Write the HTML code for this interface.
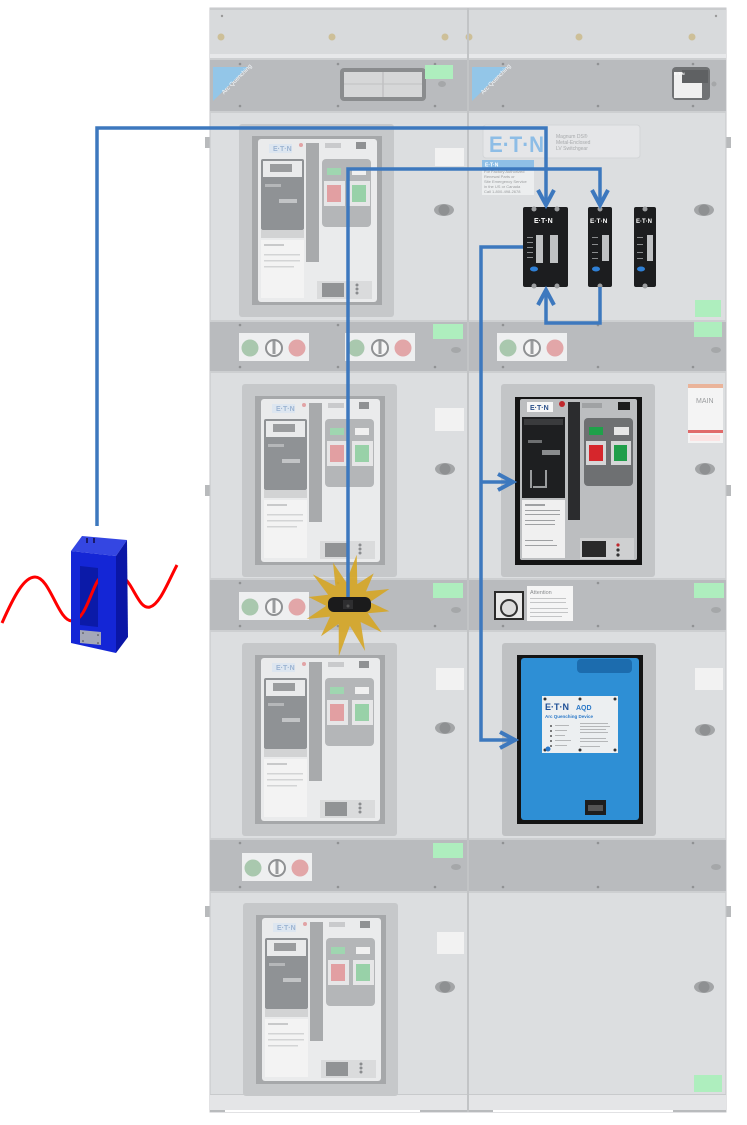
<!DOCTYPE html>
<html><head><meta charset="utf-8"><style>
html,body{margin:0;padding:0;background:#fff;}
svg{display:block}
text{font-family:"Liberation Sans",sans-serif}
</style></head><body>
<svg width="747" height="1125" viewBox="0 0 747 1125" xmlns="http://www.w3.org/2000/svg">
<defs>
<g id="brk">
<rect x="0" y="0" width="155" height="193" rx="3" fill="#c6c8ca"/>
<rect x="13" y="12" width="130" height="169" fill="#a6a8aa"/>
<rect x="19" y="15" width="119" height="163" rx="3" fill="#eaebec"/>
<rect x="30" y="20" width="23" height="9" fill="#dde6f0"/>
<circle cx="62" cy="21" r="2" fill="#e2a3a5"/>
<rect x="22" y="35" width="43" height="71" rx="2" fill="#8f9295"/>
<rect x="24" y="37" width="39" height="16" fill="#e9eaeb"/>
<rect x="31" y="40" width="22" height="8" fill="#9a9c9e"/>
<rect x="26" y="60" width="16" height="3" fill="#b5b7b9"/>
<rect x="40" y="75" width="18" height="4" fill="#c2c4c6"/>
<rect x="22" y="106" width="43" height="8" fill="#d2d3d4"/>
<rect x="22" y="116" width="43" height="58" fill="#f3f3f3"/>
<rect x="25" y="120" width="20" height="2" fill="#c8c9ca"/>
<rect x="25" y="130" width="36" height="1.5" fill="#d3d4d5"/>
<rect x="25" y="136" width="36" height="1.5" fill="#d3d4d5"/>
<rect x="25" y="142" width="30" height="1.5" fill="#d3d4d5"/>
<rect x="67" y="19" width="13" height="119" fill="#a8aaac"/>
<rect x="86" y="19" width="16" height="5" fill="#c9cacc"/>
<rect x="117" y="18" width="10" height="7" fill="#8f9193"/>
<rect x="83" y="35" width="49" height="68" rx="4" fill="#b4b6b8"/>
<rect x="88" y="44" width="14" height="7" fill="#9fd6b0"/>
<rect x="113" y="44" width="14" height="7" fill="#f0f0f0"/>
<rect x="85" y="57" width="21" height="25" fill="#e6e6e7"/>
<rect x="88" y="61" width="14" height="17" fill="#e29fa2"/>
<rect x="110" y="57" width="21" height="25" fill="#e6e6e7"/>
<rect x="113" y="61" width="14" height="17" fill="#98d1a8"/>
<rect x="78" y="157" width="55" height="18" fill="#dadbdc"/>
<rect x="83" y="159" width="22" height="14" fill="#919395"/>
<circle cx="118" cy="161" r="1.5" fill="#8a8c8e"/>
<circle cx="118" cy="165" r="1.5" fill="#8a8c8e"/>
<circle cx="118" cy="169" r="1.5" fill="#8a8c8e"/>
</g>
<g id="plate">
<rect x="0" y="0" width="70" height="28" fill="#eeeff0"/>
<circle cx="11" cy="15" r="8.5" fill="#a9c8ae"/>
<circle cx="35" cy="15" r="8" fill="#f6f6f6" stroke="#8f9193" stroke-width="2"/>
<rect x="33.5" y="8" width="3" height="13" fill="#9a9c9e"/>
<circle cx="58" cy="15" r="8.5" fill="#e2a6a8"/>
</g>
<g id="knob">
<ellipse cx="0" cy="0" rx="10" ry="6" fill="#a3a5a7"/>
<circle cx="0" cy="0" r="5.5" fill="#8e9092"/>
</g>
<clipPath id="win"><polygon points="80,566 98,568 98,627 80,625"/></clipPath>
</defs>

<rect width="747" height="1125" fill="#fff"/>

<!-- hinges -->
<rect x="205" y="137" width="6" height="11" fill="#b8babc"/>
<rect x="205" y="485" width="6" height="11" fill="#b8babc"/>
<rect x="205" y="906" width="6" height="11" fill="#b8babc"/>
<rect x="725" y="137" width="6" height="11" fill="#b8babc"/>
<rect x="725" y="485" width="6" height="11" fill="#b8babc"/>
<rect x="725" y="906" width="6" height="11" fill="#b8babc"/>

<!-- cabinet -->
<rect x="210" y="8" width="516" height="1104" fill="#dcdee0" stroke="#c4c6c8" stroke-width="1"/>
<rect x="210" y="8" width="516" height="50" fill="#d8dadc"/>
<rect x="210" y="8" width="516" height="2" fill="#c9cbcd"/>
<rect x="210" y="54" width="516" height="4" fill="#e7e8ea"/>
<g fill="#cdbf98">
<circle cx="221" cy="37" r="3.5"/><circle cx="332" cy="37" r="3.5"/><circle cx="445" cy="37" r="3.5"/>
<circle cx="469" cy="37" r="3.5"/><circle cx="579" cy="37" r="3.5"/><circle cx="692" cy="37" r="3.5"/>
</g>
<circle cx="222" cy="16" r="1.2" fill="#999"/><circle cx="716" cy="16" r="1.2" fill="#999"/>

<!-- bands -->
<g fill="#b9bbbe">
<rect x="210" y="58" width="516" height="55"/>
<rect x="210" y="320" width="516" height="53"/>
<rect x="210" y="578" width="516" height="54"/>
<rect x="210" y="838" width="516" height="55"/>
</g>
<g fill="#cdcfd1">
<rect x="210" y="58" width="516" height="2"/><rect x="210" y="111" width="516" height="2"/>
<rect x="210" y="320" width="516" height="2"/><rect x="210" y="371" width="516" height="2"/>
<rect x="210" y="578" width="516" height="2"/><rect x="210" y="630" width="516" height="2"/>
<rect x="210" y="838" width="516" height="2"/><rect x="210" y="891" width="516" height="2"/>
</g>
<!-- bottom -->
<rect x="210" y="1094" width="516" height="18" fill="#e4e5e7"/>
<rect x="210" y="1094" width="516" height="1" fill="#c8cacc"/>
<rect x="210" y="1110" width="516" height="2" fill="#b9bbbd"/>
<rect x="225" y="1110" width="195" height="2" fill="#fff"/>
<rect x="493" y="1110" width="180" height="2" fill="#fff"/>

<!-- divider -->
<rect x="467" y="8" width="2" height="1104" fill="#c2c4c6"/>

<!-- band screws -->
<g fill="#909294">
<circle cx="240" cy="64" r="1.3"/><circle cx="338" cy="64" r="1.3"/><circle cx="435" cy="64" r="1.3"/>
<circle cx="240" cy="106" r="1.3"/><circle cx="338" cy="106" r="1.3"/><circle cx="435" cy="106" r="1.3"/>
<circle cx="503" cy="64" r="1.3"/><circle cx="598" cy="64" r="1.3"/><circle cx="693" cy="64" r="1.3"/>
<circle cx="503" cy="106" r="1.3"/><circle cx="598" cy="106" r="1.3"/><circle cx="693" cy="106" r="1.3"/>
<circle cx="240" cy="325" r="1.3"/><circle cx="338" cy="325" r="1.3"/><circle cx="240" cy="367" r="1.3"/><circle cx="338" cy="367" r="1.3"/><circle cx="435" cy="367" r="1.3"/>
<circle cx="503" cy="325" r="1.3"/><circle cx="598" cy="325" r="1.3"/><circle cx="503" cy="367" r="1.3"/><circle cx="598" cy="367" r="1.3"/><circle cx="693" cy="367" r="1.3"/>
<circle cx="240" cy="583" r="1.3"/><circle cx="338" cy="583" r="1.3"/><circle cx="240" cy="626" r="1.3"/><circle cx="338" cy="626" r="1.3"/><circle cx="435" cy="626" r="1.3"/>
<circle cx="503" cy="626" r="1.3"/><circle cx="598" cy="583" r="1.3"/><circle cx="598" cy="626" r="1.3"/><circle cx="693" cy="626" r="1.3"/>
<circle cx="240" cy="843" r="1.3"/><circle cx="338" cy="843" r="1.3"/><circle cx="240" cy="887" r="1.3"/><circle cx="338" cy="887" r="1.3"/><circle cx="435" cy="887" r="1.3"/>
<circle cx="503" cy="843" r="1.3"/><circle cx="598" cy="843" r="1.3"/><circle cx="693" cy="843" r="1.3"/>
<circle cx="503" cy="887" r="1.3"/><circle cx="598" cy="887" r="1.3"/><circle cx="693" cy="887" r="1.3"/>
</g>

<!-- band 1 details -->
<polygon points="213,67 248,67 213,101" fill="#93c6e8"/>
<text x="218" y="92" font-size="6" fill="#f4f8fb" transform="rotate(-45 224 86)">Arc Quenching</text>
<polygon points="472,67 507,67 472,101" fill="#93c6e8"/>
<text x="477" y="92" font-size="6" fill="#f4f8fb" transform="rotate(-45 483 86)">Arc Quenching</text>
<rect x="340" y="68" width="86" height="33" rx="4" fill="#8a8c8e"/>
<rect x="344" y="72" width="78" height="25" fill="#d6d7d8"/>
<line x1="383" y1="72" x2="383" y2="97" stroke="#b5b6b7" stroke-width="1"/>
<line x1="344" y1="84" x2="422" y2="84" stroke="#c0c1c2" stroke-width="1"/>
<ellipse cx="442" cy="84" rx="4" ry="3" fill="#a5a7a9"/>
<rect x="425" y="65" width="28" height="14" fill="#aeeebe"/>
<rect x="672" y="67" width="38" height="33" rx="4" fill="#707274"/>
<rect x="674" y="72" width="28" height="26" fill="#f0f0f0"/>
<rect x="682" y="70" width="26" height="13" fill="#5f6163"/>
<text x="674" y="75" font-size="4" fill="#fff" font-weight="bold">E·T·N</text>
<circle cx="714" cy="84" r="2.5" fill="#a5a7a9"/>

<!-- left breakers -->
<use href="#brk" x="239" y="124"/>
<use href="#brk" x="242" y="384"/>
<use href="#brk" x="242" y="643"/>
<use href="#brk" x="243" y="903"/>
<g font-size="7" fill="#9cb4d2" font-weight="bold">
<text x="273" y="151">E·T·N</text>
<text x="276" y="411">E·T·N</text>
<text x="276" y="670">E·T·N</text>
<text x="277" y="930">E·T·N</text>
</g>

<!-- left panel labels & knobs -->
<g fill="#f2f2f2">
<rect x="435" y="148" width="29" height="18"/>
<rect x="435" y="408" width="29" height="23"/>
<rect x="436" y="668" width="28" height="22"/>
<rect x="437" y="932" width="27" height="22"/>
<rect x="695" y="668" width="28" height="22"/>
</g>
<use href="#knob" x="444" y="210"/>
<use href="#knob" x="445" y="469"/>
<use href="#knob" x="445" y="728"/>
<use href="#knob" x="445" y="987"/>
<use href="#knob" x="704" y="210"/>
<use href="#knob" x="705" y="469"/>
<use href="#knob" x="705" y="730"/>
<use href="#knob" x="704" y="987"/>

<!-- plates -->
<use href="#plate" x="239" y="333"/>
<use href="#plate" x="345" y="333"/>
<use href="#plate" x="497" y="333"/>
<use href="#plate" x="239" y="592"/>
<use href="#plate" x="242" y="853"/>

<!-- green labels -->
<g fill="#aeeebe">
<rect x="433" y="324" width="30" height="15"/>
<rect x="694" y="322" width="28" height="15"/>
<rect x="695" y="300" width="26" height="17"/>
<rect x="433" y="583" width="30" height="15"/>
<rect x="694" y="583" width="30" height="15"/>
<rect x="433" y="843" width="30" height="15"/>
<rect x="694" y="1075" width="28" height="17"/>
</g>
<g fill="#a5a7a9">
<ellipse cx="456" cy="350" rx="5" ry="3"/><ellipse cx="716" cy="350" rx="5" ry="3"/>
<ellipse cx="456" cy="610" rx="5" ry="3"/><ellipse cx="716" cy="610" rx="5" ry="3"/>
<ellipse cx="456" cy="867" rx="5" ry="3"/><ellipse cx="716" cy="867" rx="5" ry="3"/>
</g>

<!-- right row 1: Eaton labels -->
<rect x="483" y="125" width="157" height="33" rx="3" fill="#e5e6e8" stroke="#d3d5d7" stroke-width="1"/>
<text x="489" y="152" font-size="22" font-weight="bold" fill="#8dbde6" textLength="55" lengthAdjust="spacingAndGlyphs">E·T·N</text>
<g font-size="5" fill="#a8aaac">
<text x="556" y="138">Magnum DS®</text>
<text x="556" y="144">Metal-Enclosed</text>
<text x="556" y="150">LV Switchgear</text>
</g>
<rect x="482" y="160" width="52" height="35" fill="#eceeef"/>
<rect x="482" y="160" width="52" height="8" fill="#8fbfe6"/>
<text x="485" y="166.5" font-size="5" font-weight="bold" fill="#fff">E·T·N</text>
<g font-size="4" fill="#9a9c9e">
<text x="484" y="173">For Factory Authorized</text>
<text x="484" y="178">Renewal Parts or</text>
<text x="484" y="183">Site Emergency Service</text>
<text x="484" y="188">in the US or Canada</text>
<text x="484" y="193">Call 1-800-498-2678</text>
</g>

<!-- relays -->
<rect x="523" y="207" width="45" height="80" rx="2" fill="#1c1d1f"/>
<rect x="588" y="207" width="24" height="80" rx="2" fill="#1c1d1f"/>
<rect x="634" y="207" width="22" height="80" rx="2" fill="#1c1d1f"/>
<g fill="#fff" font-weight="bold">
<text x="534" y="223" font-size="7">E·T·N</text>
<text x="590" y="223" font-size="6.5">E·T·N</text>
<text x="636" y="223" font-size="6">E·T·N</text>
</g>
<g fill="#bfc1c3">
<rect x="536" y="235" width="7" height="28"/><rect x="550" y="235" width="8" height="28"/>
<rect x="602" y="235" width="7" height="26"/><rect x="647" y="235" width="6" height="26"/>
</g>
<g fill="#8a8c8e">
<rect x="527" y="237" width="6" height="1"/><rect x="527" y="242" width="6" height="1"/><rect x="527" y="247" width="6" height="1"/><rect x="527" y="252" width="6" height="1"/><rect x="527" y="257" width="6" height="1"/>
<rect x="592" y="237" width="6" height="1"/><rect x="592" y="244" width="6" height="1"/><rect x="592" y="252" width="6" height="1"/><rect x="592" y="258" width="6" height="1"/>
<rect x="637" y="237" width="6" height="1"/><rect x="637" y="244" width="6" height="1"/><rect x="637" y="252" width="6" height="1"/><rect x="637" y="258" width="6" height="1"/>
</g>
<g fill="#2f80d6">
<ellipse cx="534" cy="269" rx="4" ry="2.5"/><ellipse cx="596" cy="269" rx="4" ry="2.5"/><ellipse cx="641" cy="269" rx="4" ry="2.5"/>
</g>
<g fill="#9c9ea0">
<circle cx="534" cy="209" r="2.5"/><circle cx="557" cy="209" r="2.5"/><circle cx="534" cy="286" r="2.5"/><circle cx="557" cy="286" r="2.5"/>
<circle cx="600" cy="209" r="2.5"/><circle cx="600" cy="286" r="2.5"/>
<circle cx="645" cy="209" r="2.5"/><circle cx="645" cy="286" r="2.5"/>
</g>

<!-- right row 2: main breaker -->
<rect x="501" y="384" width="154" height="193" rx="3" fill="#c3c5c7"/>
<rect x="515" y="397" width="127" height="168" fill="#141414"/>
<rect x="520" y="399" width="117" height="161" rx="2" fill="#bcbec0"/>
<rect x="527" y="402" width="26" height="10" fill="#f6f6f6"/>
<text x="530" y="410" font-size="7" font-weight="bold" fill="#2a4f8a">E·T·N</text>
<circle cx="562" cy="404" r="3" fill="#c0282d"/>
<rect x="522" y="417" width="43" height="81" fill="#1e1f21"/>
<rect x="524" y="419" width="39" height="6" fill="#3a3b3d"/>
<rect x="528" y="440" width="14" height="3" fill="#6d6f71"/>
<rect x="542" y="450" width="18" height="5" fill="#8a8c8e"/>
<rect x="530" y="470" width="2" height="18" fill="#9a9c9e"/>
<rect x="545" y="470" width="2" height="18" fill="#9a9c9e"/>
<rect x="533" y="486" width="14" height="2" fill="#9a9c9e"/>
<rect x="522" y="500" width="43" height="58" fill="#f0f0f0"/>
<g fill="#9fa1a3"><rect x="525" y="504" width="20" height="2"/><rect x="525" y="510" width="35" height="1"/><rect x="525" y="514" width="35" height="1"/><rect x="525" y="520" width="30" height="1"/><rect x="525" y="524" width="30" height="1"/><rect x="525" y="540" width="28" height="1"/><rect x="525" y="545" width="32" height="1"/></g>
<rect x="568" y="402" width="12" height="118" fill="#2b2c2e"/>
<rect x="582" y="403" width="20" height="5" fill="#a0a2a4"/>
<rect x="618" y="402" width="12" height="8" fill="#1c1c1c"/>
<rect x="584" y="418" width="49" height="68" rx="4" fill="#6e7072"/>
<rect x="589" y="427" width="14" height="8" fill="#1fa14a"/>
<rect x="614" y="427" width="15" height="8" fill="#e6e6e6"/>
<rect x="586" y="441" width="20" height="24" fill="#d5d6d7"/>
<rect x="589" y="445" width="14" height="16" fill="#d6262c"/>
<rect x="611" y="441" width="20" height="24" fill="#d5d6d7"/>
<rect x="614" y="445" width="13" height="16" fill="#1f9e4a"/>
<rect x="580" y="538" width="54" height="21" fill="#cfd0d1"/>
<rect x="582" y="541" width="24" height="16" fill="#2a2a2a"/>
<circle cx="618" cy="545" r="1.6" fill="#c0282d"/><circle cx="618" cy="550" r="1.6" fill="#333"/><circle cx="618" cy="555" r="1.6" fill="#333"/>
<!-- MAIN label -->
<rect x="688" y="384" width="35" height="59" fill="#f4f4f4"/>
<rect x="688" y="384" width="35" height="4" fill="#eab49a"/>
<text x="696" y="403" font-size="7" fill="#9a9c9e">MAIN</text>
<rect x="688" y="430" width="35" height="3" fill="#e06a6a"/>
<rect x="690" y="435" width="30" height="6" fill="#fbe3e3"/>

<!-- band 3 right -->
<rect x="495" y="592" width="28" height="27" fill="#e8e8e8" stroke="#2a2a2a" stroke-width="2"/>
<circle cx="509" cy="608" r="8" fill="#dcdcdc" stroke="#333" stroke-width="2"/>
<rect x="527" y="586" width="46" height="35" fill="#f5f5f5"/>
<text x="530" y="594" font-size="5.5" fill="#8a8c8e">Attention</text>
<g fill="#c4c5c6"><rect x="530" y="598" width="36" height="1"/><rect x="530" y="602" width="36" height="1"/><rect x="530" y="608" width="38" height="1"/><rect x="530" y="612" width="38" height="1"/><rect x="530" y="616" width="32" height="1"/></g>

<!-- AQD -->
<rect x="502" y="643" width="154" height="193" rx="3" fill="#bfc1c3"/>
<rect x="517" y="655" width="126" height="169" fill="#141414"/>
<rect x="521" y="658" width="118" height="162" rx="3" fill="#2e8fd5"/>
<rect x="577" y="659" width="55" height="14" rx="4" fill="#1c6cae"/>
<rect x="542" y="696" width="76" height="57" fill="#eceff1"/>
<g fill="#333"><circle cx="545" cy="699" r="1.5"/><circle cx="615" cy="699" r="1.5"/><circle cx="545" cy="750" r="1.5"/><circle cx="615" cy="750" r="1.5"/><circle cx="580" cy="750" r="1.5"/><circle cx="580" cy="699" r="1.5"/></g>
<text x="545" y="710" font-size="9" font-weight="bold" fill="#1e4f96">E·T·N</text>
<text x="576" y="710" font-size="7" font-weight="bold" fill="#2a78c8">AQD</text>
<text x="545" y="718" font-size="4.5" font-weight="bold" fill="#2a78c8">Arc Quenching Device</text>
<g fill="#555"><circle cx="551" cy="726" r="1"/><circle cx="551" cy="731" r="1"/><circle cx="551" cy="736" r="1"/><circle cx="551" cy="741" r="1"/><circle cx="551" cy="746" r="1"/></g>
<circle cx="548" cy="749" r="2.5" fill="#2a78c8"/>
<g fill="#b5b7b9"><rect x="555" y="725" width="14" height="1"/><rect x="555" y="730" width="12" height="1"/><rect x="555" y="735" width="10" height="1"/><rect x="555" y="740" width="16" height="1"/><rect x="555" y="745" width="12" height="1"/>
<rect x="580" y="723" width="28" height="1"/><rect x="580" y="726" width="30" height="1"/><rect x="580" y="729" width="26" height="1"/><rect x="580" y="732" width="28" height="1"/><rect x="580" y="738" width="26" height="1"/><rect x="580" y="741" width="28" height="1"/><rect x="580" y="746" width="20" height="1"/></g>
<rect x="585" y="800" width="21" height="15" fill="#1e1e1e"/>
<rect x="588" y="805" width="15" height="6" fill="#555"/>

<!-- starburst -->
<polygon points="356.7,554.8 357.3,584.1 373.7,573.4 366.0,591.4 389.4,589.0 369.9,602.1 389.4,611.3 367.9,613.3 381.7,632.3 360.6,622.0 365.1,651.0 349.9,625.9 338.8,656.2 338.7,623.9 321.0,636.2 330.0,616.6 306.6,619.0 326.1,605.9 308.6,597.0 328.1,594.7 312.8,574.4 335.4,586.0 333.0,562.6 346.1,582.1" fill="#d6a520" fill-opacity="0.88"/>

<!-- blue connection lines -->
<g fill="none" stroke="#3d78be" stroke-width="3.5" stroke-linejoin="miter">
<polyline points="97,526 97,128 546,128 546,203"/>
<polyline points="348,598 348,169 600,169 600,203"/>
<polyline points="600,287 600,323 546,323 546,292"/>
<polyline points="523,247 481,247 481,740 513,740"/>
<polyline points="481,482 511,482"/>
</g>
<g fill="none" stroke="#3d78be" stroke-width="4" stroke-linejoin="miter" stroke-linecap="butt">
<polyline points="538,190 546,205 554,190"/>
<polyline points="592,190 600,205 608,190"/>
<polyline points="538,305 546,290 554,305"/>
<polyline points="498,474 513,482 498,490"/>
<polyline points="500,732 515,740 500,748"/>
</g>

<!-- arc sensor -->
<rect x="328" y="597" width="43" height="15" rx="6" fill="#1b1b1c"/>
<rect x="343" y="600" width="10" height="9" fill="#2e2e30"/>
<circle cx="348" cy="606" r="1.5" fill="#555"/>

<!-- red wave -->
<path d="M2,623 C14,596 24,577 35,577 C50,577 58,621 72,621 C86,621 92,585 100,578 C110,570 122,572 130,585 C138,598 142,609 150,607 C160,604 168,582 177,565" fill="none" stroke="#ff0000" stroke-width="3"/>

<!-- blue CT device -->
<polygon points="71,551 82,536 127,540 116,556" fill="#3446e2"/>
<polygon points="71,551 116,556 116,653 71,643" fill="#1426d6"/>
<polygon points="116,556 127,540 128,637 116,653" fill="#0a16a6"/>
<polygon points="80,566 98,568 98,627 80,625" fill="#0b1aa8"/>
<rect x="86" y="538" width="2" height="5" fill="#1a1a6a"/>
<rect x="93" y="538" width="2" height="5" fill="#1a1a6a"/>
<polygon points="80,630 101,632 101,645 80,643" fill="#a4a8b8"/>
<g fill="#444"><circle cx="83" cy="633" r="0.8"/><circle cx="98" cy="635" r="0.8"/><circle cx="83" cy="641" r="0.8"/><circle cx="98" cy="643" r="0.8"/></g>
<path d="M2,623 C14,596 24,577 35,577 C50,577 58,621 72,621 C86,621 92,585 100,578 C110,570 122,572 130,585" fill="none" stroke="#ff0000" stroke-width="3" clip-path="url(#win)"/>
</svg>
</body></html>
